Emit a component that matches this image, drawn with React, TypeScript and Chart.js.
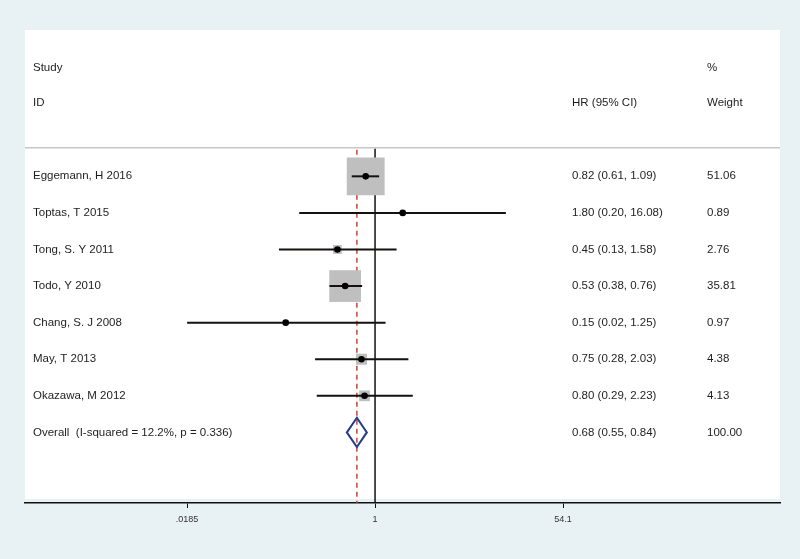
import React, { useEffect, useRef } from "react";
import { Chart, registerables } from "chart.js";

Chart.register(...registerables);

// ---------- data ----------
const studies = [
  "Eggemann, H 2016",
  "Toptas, T 2015",
  "Tong, S. Y 2011",
  "Todo, Y 2010",
  "Chang, S. J 2008",
  "May, T 2013",
  "Okazawa, M 2012",
];
const hr = [0.82, 1.8, 0.45, 0.53, 0.15, 0.75, 0.8];
const ciLow = [0.61, 0.2, 0.13, 0.38, 0.0185, 0.28, 0.29];
const ciHigh = [1.09, 16.08, 1.58, 0.76, 1.25, 2.03, 2.23];
const hrLabels = [
  "0.82 (0.61, 1.09)",
  "1.80 (0.20, 16.08)",
  "0.45 (0.13, 1.58)",
  "0.53 (0.38, 0.76)",
  "0.15 (0.02, 1.25)",
  "0.75 (0.28, 2.03)",
  "0.80 (0.29, 2.23)",
];
const weights = [51.06, 0.89, 2.76, 35.81, 0.97, 4.38, 4.13];
const weightLabels = ["51.06", "0.89", "2.76", "35.81", "0.97", "4.38", "4.13"];

const overallLabel = "Overall  (I-squared = 12.2%, p = 0.336)";
const overallHr = 0.68;
const overallLow = 0.55;
const overallHigh = 0.84;
const overallHrLabel = "0.68 (0.55, 0.84)";
const overallWeightLabel = "100.00";

const headerTop = ["Study", "", "%"];
const headerBottom = ["ID", "HR (95% CI)", "Weight"];

const xTicks = [0.0185, 1, 54.1];
const xTickLabels = [".0185", "1", "54.1"];

// ---------- style ----------
const FONT = "'Liberation Sans', Arial, Helvetica, sans-serif";
const TEXT_SIZE = 11.5;
const BG = "#e8f1f4";

export default function App() {
  const ref = useRef<HTMLCanvasElement | null>(null);

  useEffect(() => {
    document.body.style.margin = "0";
    const canvas = ref.current;
    if (!canvas) return;

    const nRows = studies.length;
    const overallRow = nRows;

    const forestPlugin = {
      id: "forest",
      beforeDraw(chart: any) {
        const { ctx, chartArea } = chart;
        ctx.save();
        ctx.fillStyle = "#ffffff";
        ctx.fillRect(
          chartArea.left,
          chartArea.top,
          chartArea.right - chartArea.left,
          chartArea.bottom - chartArea.top - 4
        );
        ctx.restore();
      },
      beforeDatasetsDraw(chart: any) {
        const { ctx, chartArea, scales } = chart;
        const xs = scales.x;
        const ys = scales.y;
        const left = chartArea.left;
        const right = chartArea.right;
        const headerLineY = ys.getPixelForValue(-0.78);

        ctx.save();
        // header separator
        ctx.strokeStyle = "#c6c6c6";
        ctx.lineWidth = 1.5;
        ctx.beginPath();
        ctx.moveTo(left, headerLineY);
        ctx.lineTo(right, headerLineY);
        ctx.stroke();

        // null line at 1
        const x1 = xs.getPixelForValue(1);
        ctx.strokeStyle = "#111111";
        ctx.lineWidth = 1.5;
        ctx.beginPath();
        ctx.moveTo(x1, headerLineY + 1);
        ctx.lineTo(x1, chartArea.bottom);
        ctx.stroke();

        // overall dashed line
        const xo = xs.getPixelForValue(overallHr);
        ctx.strokeStyle = "#c0473c";
        ctx.lineWidth = 1.5;
        ctx.setLineDash([5, 4]);
        ctx.beginPath();
        ctx.moveTo(xo, headerLineY + 2);
        ctx.lineTo(xo, chartArea.bottom);
        ctx.stroke();
        ctx.setLineDash([]);

        // texts
        ctx.fillStyle = "#1e1e1e";
        ctx.font = `${TEXT_SIZE}px ${FONT}`;
        ctx.textBaseline = "middle";
        ctx.textAlign = "left";
        const colStudy = left + 8;
        const colHr = left + 547;
        const colW = left + 682;
        const cols = [colStudy, colHr, colW];

        const yTop = ys.getPixelForValue(-2.97);
        const yBot = ys.getPixelForValue(-2.0);
        headerTop.forEach((t, i) => t && ctx.fillText(t, cols[i], yTop));
        headerBottom.forEach((t, i) => t && ctx.fillText(t, cols[i], yBot));

        studies.forEach((s, i) => {
          const y = ys.getPixelForValue(i);
          ctx.fillText(s, colStudy, y);
          ctx.fillText(hrLabels[i], colHr, y);
          ctx.fillText(weightLabels[i], colW, y);
        });
        const yo = ys.getPixelForValue(overallRow);
        ctx.fillText(overallLabel, colStudy, yo);
        ctx.fillText(overallHrLabel, colHr, yo);
        ctx.fillText(overallWeightLabel, colW, yo);
        ctx.restore();
      },
      afterDatasetDraw(chart: any, args: any) {
        if (args.index !== 1) return;
        const { ctx, scales } = chart;
        const xs = scales.x;
        const ys = scales.y;
        ctx.save();
        ctx.strokeStyle = "#161010";
        ctx.lineWidth = 2;
        studies.forEach((_, i) => {
          const y = ys.getPixelForValue(i);
          ctx.beginPath();
          ctx.moveTo(xs.getPixelForValue(ciLow[i]), y);
          ctx.lineTo(xs.getPixelForValue(ciHigh[i]), y);
          ctx.stroke();
        });
        ctx.restore();
      },
      afterDatasetsDraw(chart: any) {
        const { ctx, scales } = chart;
        const xs = scales.x;
        const ys = scales.y;
        const yc = ys.getPixelForValue(overallRow);
        const yt = ys.getPixelForValue(overallRow - 0.4);
        const yb = ys.getPixelForValue(overallRow + 0.4);
        const xl = xs.getPixelForValue(overallLow);
        const xm = xs.getPixelForValue(overallHr);
        const xr = xs.getPixelForValue(overallHigh);
        ctx.save();
        ctx.strokeStyle = "#263a8a";
        ctx.lineWidth = 2;
        ctx.lineJoin = "miter";
        ctx.beginPath();
        ctx.moveTo(xl, yc);
        ctx.lineTo(xm, yt);
        ctx.lineTo(xr, yc);
        ctx.lineTo(xm, yb);
        ctx.closePath();
        ctx.stroke();
        ctx.restore();
      },
    };

    const pointData = hr.map((v, i) => ({ x: v, y: i }));
    const boxRadius = weights.map((w) => (5.3 * Math.sqrt(w)) / (2 * Math.SQRT1_2));

    const chart = new Chart(canvas, {
      type: "scatter",
      data: {
        datasets: [
          {
            label: "HR",
            data: pointData,
            pointStyle: "circle",
            pointRadius: 3.3,
            pointBackgroundColor: "#000000",
            pointBorderWidth: 0,
          },
          {
            label: "Weight",
            data: pointData,
            pointStyle: "rect",
            pointRadius: boxRadius,
            pointBackgroundColor: "#bfbfbf",
            pointBorderWidth: 0,
          },
        ],
      },
      options: {
        responsive: false,
        animation: false,
        events: [],
        layout: { autoPadding: false, padding: { left: 25, right: 20, top: 30, bottom: 0 } },
        plugins: {
          legend: { display: false },
          tooltip: { enabled: false },
          title: { display: false },
        },
        scales: {
          x: {
            type: "logarithmic",
            position: "bottom",
            min: 0.000592,
            max: 5420,
            afterBuildTicks: (scale: any) => {
              scale.ticks = xTicks.map((v) => ({ value: v }));
            },
            afterFit: (scale: any) => {
              scale.height = 56;
            },
            grid: {
              display: true,
              drawOnChartArea: false,
              drawTicks: true,
              tickLength: 5,
              color: "#111111",
              lineWidth: 1,
            },
            border: { display: true, color: "#111111", width: 1.5 },
            ticks: {
              autoSkip: false,
              maxRotation: 0,
              padding: 6,
              color: "#333333",
              font: { family: FONT, size: 9 },
              callback: (_v: any, i: number) => xTickLabels[i],
            },
          },
          y: {
            type: "linear",
            display: false,
            reverse: true,
            min: -4,
            max: 8.93,
          },
        },
      },
      plugins: [forestPlugin],
    });

    return () => chart.destroy();
  }, []);

  return (
    <div style={{ width: 800, height: 559, background: BG }}>
      <canvas ref={ref} width={800} height={559} />
    </div>
  );
}
